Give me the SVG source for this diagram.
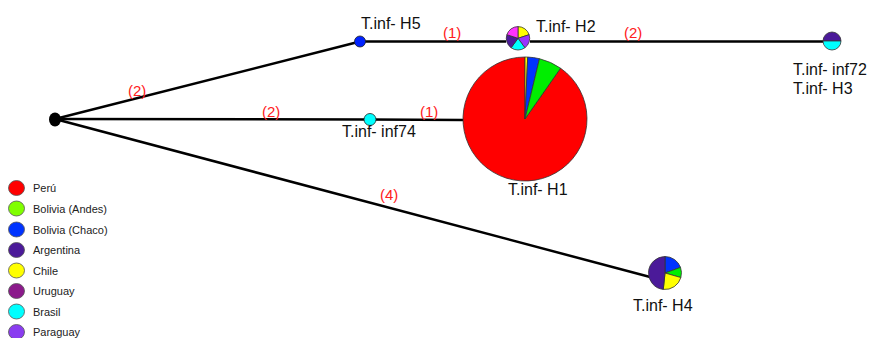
<svg xmlns="http://www.w3.org/2000/svg" width="872" height="338" viewBox="0 0 872 338">
<style>
.edge{stroke:#000;stroke-width:2.5;fill:none}
.lbl{font-family:"Liberation Sans",Arial,sans-serif;font-size:16px;fill:#111}
.num{font-family:"Liberation Sans",Arial,sans-serif;font-size:15px;fill:#ff2020}
.leg{font-family:"Liberation Sans",Arial,sans-serif;font-size:11px;fill:#222}
.sl{stroke:#333;stroke-width:0.8}
.legc{stroke:#555;stroke-width:0.8}
</style>
<rect width="872" height="338" fill="#fff"/>
<g id="connectors">
<line class="edge" x1="55" y1="119" x2="360" y2="41.5"/>
<line class="edge" x1="360" y1="41.5" x2="506" y2="41.5"/>
<line class="edge" x1="530" y1="41.5" x2="823" y2="41.5"/>
<line class="edge" x1="55" y1="119" x2="370" y2="119.5"/>
<line class="edge" x1="370" y1="119.5" x2="463" y2="120"/>
<line class="edge" x1="55" y1="119" x2="652" y2="277.5"/>
<text class="num" x="128" y="96">(2)</text>
<text class="num" x="443" y="38">(1)</text>
<text class="num" x="624" y="38">(2)</text>
<text class="num" x="262" y="117">(2)</text>
<text class="num" x="420" y="117">(1)</text>
<text class="num" x="380" y="200">(4)</text>
</g>
<g id="root">
<ellipse cx="55" cy="119.5" rx="6" ry="7" fill="#000"/>
</g>
<g id="H5">
<circle cx="360" cy="41.5" r="5.5" fill="#0022ff" stroke="#222" stroke-width="0.8"/>
<text class="lbl" x="361" y="29">T.inf- H5</text>
</g>
<g id="H2">
<path class="sl" d="M518,38.3 L518,26.6 A11.7,11.7 0 0,1 529.13,34.68 Z" fill="#ffff00"/>
<path class="sl" d="M518,38.3 L529.13,34.68 A11.7,11.7 0 0,1 524.88,47.77 Z" fill="#9933ff"/>
<path class="sl" d="M518,38.3 L524.88,47.77 A11.7,11.7 0 0,1 511.12,47.77 Z" fill="#00ffff"/>
<path class="sl" d="M518,38.3 L511.12,47.77 A11.7,11.7 0 0,1 506.87,34.68 Z" fill="#4b1a99"/>
<path class="sl" d="M518,38.3 L506.87,34.68 A11.7,11.7 0 0,1 518,26.6 Z" fill="#ff33ff"/>
<text class="lbl" x="536" y="31.5">T.inf- H2</text>
</g>
<g id="H3">
<path class="sl" d="M823,41 A9,9 0 0,1 841,41 Z" fill="#4b1a99"/>
<path class="sl" d="M823,41 A9,9 0 0,0 841,41 Z" fill="#00ffff"/>
<text class="lbl" x="793" y="75">T.inf- inf72</text>
<text class="lbl" x="793" y="94">T.inf- H3</text>
</g>
<g id="inf74">
<circle cx="370" cy="119.5" r="6" fill="#00ffff" stroke="#222" stroke-width="0.8"/>
<text class="lbl" x="342" y="137">T.inf- inf74</text>
</g>
<g id="H1">
<path class="sl" d="M525,119 L560.56,68.21 A62,62 0 1,1 525,57 Z" fill="#ff0000"/>
<path class="sl" d="M525,119 L525,57 A62,62 0 0,1 527.7,57.06 Z" fill="#ffff00"/>
<path class="sl" d="M525,119 L527.7,57.06 A62,62 0 0,1 539.47,58.71 Z" fill="#0033ff"/>
<path class="sl" d="M525,119 L539.47,58.71 A62,62 0 0,1 560.56,68.21 Z" fill="#00ee00"/>
<text class="lbl" x="508" y="195">T.inf- H1</text>
</g>
<g id="H4">
<path class="sl" d="M665,273 L665,256.5 A16.5,16.5 0 0,1 680.5,267.36 Z" fill="#0033ff"/>
<path class="sl" d="M665,273 L680.5,267.36 A16.5,16.5 0 0,1 680.86,277.55 Z" fill="#00ee00"/>
<path class="sl" d="M665,273 L680.86,277.55 A16.5,16.5 0 0,1 663.28,289.41 Z" fill="#ffff00"/>
<path class="sl" d="M665,273 L663.28,289.41 A16.5,16.5 0 0,1 665,256.5 Z" fill="#4b1a99"/>
<text class="lbl" x="633" y="311">T.inf- H4</text>
</g>
<g id="legend">
<ellipse class="legc" cx="16.5" cy="188" rx="8" ry="7.5" fill="#ff0000"/>
<text class="leg" x="33" y="192">Perú</text>
<ellipse class="legc" cx="16.5" cy="208.5" rx="8" ry="7.5" fill="#80ff00"/>
<text class="leg" x="33" y="212.5">Bolivia (Andes)</text>
<ellipse class="legc" cx="16.5" cy="229.5" rx="8" ry="7.5" fill="#0033ff"/>
<text class="leg" x="33" y="233.5">Bolivia (Chaco)</text>
<ellipse class="legc" cx="16.5" cy="250" rx="8" ry="7.5" fill="#4b1a99"/>
<text class="leg" x="33" y="254">Argentina</text>
<ellipse class="legc" cx="16.5" cy="270.5" rx="8" ry="7.5" fill="#ffff00"/>
<text class="leg" x="33" y="274.5">Chile</text>
<ellipse class="legc" cx="16.5" cy="291" rx="8" ry="7.5" fill="#8b1a8b"/>
<text class="leg" x="33" y="295">Uruguay</text>
<ellipse class="legc" cx="16.5" cy="311.5" rx="8" ry="7.5" fill="#00ffff"/>
<text class="leg" x="33" y="315.5">Brasil</text>
<ellipse class="legc" cx="16.5" cy="332" rx="8" ry="7.5" fill="#8a3cf0"/>
<text class="leg" x="33" y="336">Paraguay</text>
</g>
</svg>
